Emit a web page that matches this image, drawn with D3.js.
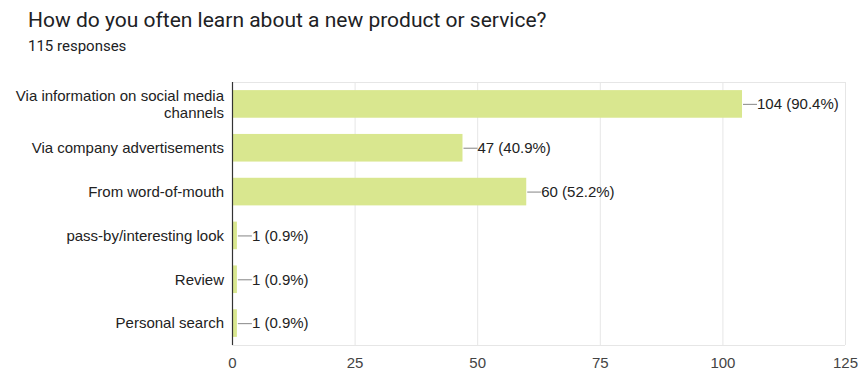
<!DOCTYPE html>
<html>
<head>
<meta charset="utf-8">
<script src="https://cdn.jsdelivr.net/npm/d3@7"></script>
<style>
  html, body { margin: 0; padding: 0; background: #fff; }
  svg { display: block; }
</style>
</head>
<body>
<svg id="chart" width="859" height="372"></svg>
<script>
// Survey answers, counts and percentage labels
const categories = [
  ["Via information on social media", "channels"],
  ["Via company advertisements"],
  ["From word-of-mouth"],
  ["pass-by/interesting look"],
  ["Review"],
  ["Personal search"]
];
const counts = [104, 47, 60, 1, 1, 1];
const percents = ["90.4%", "40.9%", "52.2%", "0.9%", "0.9%", "0.9%"];
const xTicks = [0, 25, 50, 75, 100, 125];
const title = "How do you often learn about a new product or service?";
const subtitle = "115 responses";

const svg = d3.select("#chart");
const headFont = "Roboto, Arial, sans-serif";
const font = "'Liberation Sans', Arial, sans-serif";

const plot = { left: 232, right: 845, top: 82, bottom: 345 };

const x = d3.scaleLinear().domain([0, 125]).range([plot.left, plot.right]);
const y = d3.scaleBand()
  .domain(d3.range(categories.length))
  .range([plot.top, plot.bottom])
  .paddingInner(0.37)
  .paddingOuter(0.185);

// Header
svg.append("text")
  .attr("x", 28).attr("y", 27)
  .attr("font-family", headFont).attr("font-size", 21)
  .attr("fill", "#202124")
  .text(title);
svg.append("text")
  .attr("x", 28).attr("y", 50.5)
  .attr("font-family", headFont).attr("font-size", 15)
  .attr("fill", "#202124")
  .text(subtitle);

// Vertical gridlines and tick labels
const xAxis = d3.axisBottom(x)
  .tickValues(xTicks)
  .tickSize(-(plot.bottom - plot.top))
  .tickPadding(12)
  .tickFormat(d3.format("d"));
const gx = svg.append("g")
  .attr("transform", `translate(0,${plot.bottom})`)
  .call(xAxis);
gx.select(".domain").remove();
gx.selectAll(".tick line").attr("stroke", "#e6e6e6").attr("stroke-width", 1);
gx.selectAll(".tick text")
  .attr("font-family", font).attr("font-size", 15)
  .attr("fill", "#444");

// Frame lines top and bottom
[plot.top, plot.bottom].forEach(yy => {
  svg.append("line")
    .attr("x1", plot.left).attr("x2", plot.right)
    .attr("y1", yy + 0.5).attr("y2", yy + 0.5)
    .attr("stroke", "#e6e6e6");
});

// Bars
svg.append("g").selectAll("rect")
  .data(counts)
  .join("rect")
  .attr("x", x(0))
  .attr("y", (d, i) => y(i))
  .attr("width", d => x(d) - x(0))
  .attr("height", y.bandwidth())
  .attr("fill", "#d9e78f");

// Value labels with leader lines
const labels = svg.append("g").selectAll("g")
  .data(counts)
  .join("g")
  .attr("transform", (d, i) => `translate(${x(d)},${y(i) + y.bandwidth() / 2})`);
labels.append("line")
  .attr("x1", 1).attr("x2", 15)
  .attr("y1", 0.5).attr("y2", 0.5)
  .attr("stroke", "#999").attr("stroke-width", 1.2);
labels.append("text")
  .attr("x", 15).attr("dy", "0.36em")
  .attr("font-family", font).attr("font-size", 15)
  .attr("fill", "#222")
  .text((d, i) => `${d} (${percents[i]})`);

// Category labels (right aligned, may wrap)
const cat = svg.append("g").selectAll("text")
  .data(categories)
  .join("text")
  .attr("text-anchor", "end")
  .attr("font-family", font).attr("font-size", 15)
  .attr("fill", "#222")
  .attr("transform", (d, i) => `translate(${plot.left - 8},${y(i) + y.bandwidth() / 2})`);
cat.each(function (lines) {
  const t = d3.select(this);
  const lh = 17;
  const y0 = -(lines.length - 1) * lh / 2;
  lines.forEach((ln, k) => {
    t.append("tspan")
      .attr("x", 0)
      .attr("y", y0 + k * lh)
      .attr("dy", "0.36em")
      .text(ln);
  });
});

// Category axis line
svg.append("line")
  .attr("x1", plot.left + 0.5).attr("x2", plot.left + 0.5)
  .attr("y1", plot.top).attr("y2", plot.bottom)
  .attr("stroke", "#333").attr("stroke-width", 1.2);
</script>
</body>
</html>
